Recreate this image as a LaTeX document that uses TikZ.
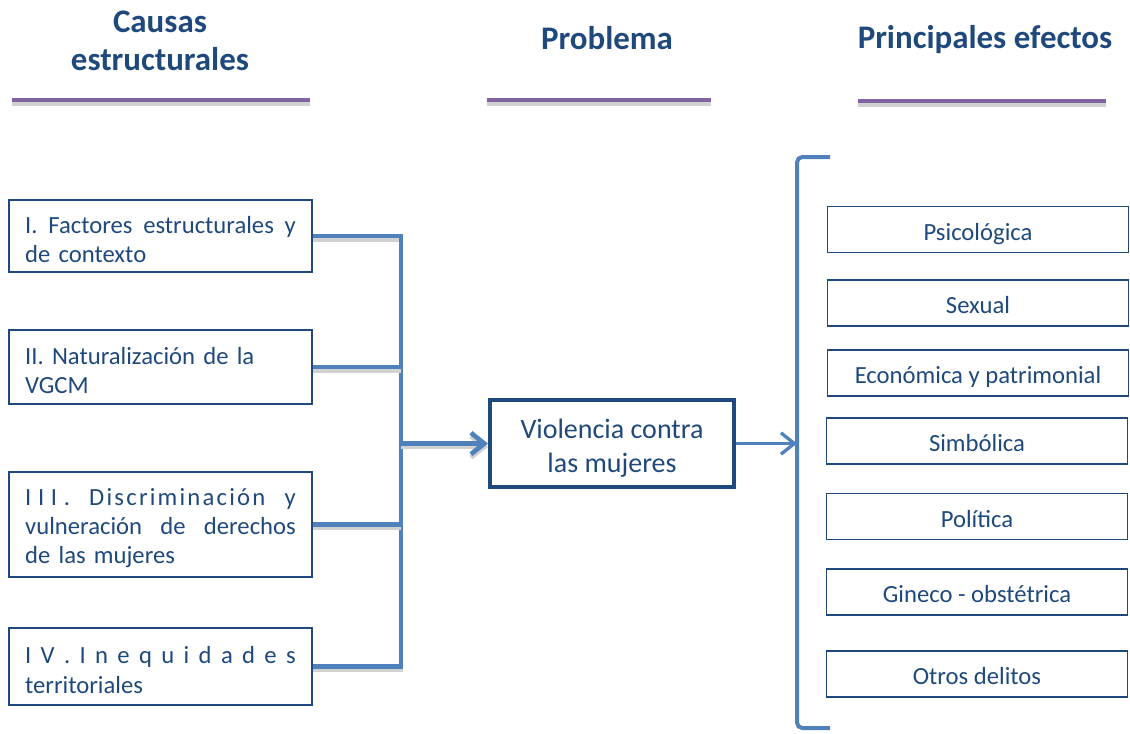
\documentclass[tikz,border=0pt]{standalone}
\usepackage{fontspec}
\setmainfont{Carlito}
\usetikzlibrary{arrows.meta}
\definecolor{txtblue}{HTML}{1F497D}
\definecolor{lineblue}{HTML}{4F81BD}
\definecolor{rulepurple}{HTML}{8064A2}
\def\spread#1{\makebox[203pt][s]{\spaceskip=0pt\xspaceskip=0pt\relax #1}}
\def\lift#1{\rule{0pt}{#1}}

\begin{document}
\begin{tikzpicture}[x=0.75pt,y=-0.75pt,
  title/.style={font=\fontsize{24.7}{28.5}\selectfont\bfseries, text=txtblue, align=center},
  titlerule/.style={draw=rulepurple, line width=3pt, preaction={draw=black!18, line width=3pt, transform canvas={yshift=-3pt}}},
  cause/.style={draw=txtblue, line width=1.6pt, text=txtblue, text width=203pt, inner xsep=12pt, inner ysep=0pt, align=left, font=\fontsize{18.5}{22}\selectfont},
  effect/.style={draw=txtblue, line width=1.1pt, text=txtblue, minimum width=226pt, minimum height=34.5pt, inner sep=0pt, text height=16pt, text depth=0pt, font=\fontsize{18.5}{22}\selectfont},
  conn/.style={draw=lineblue, line width=3.5pt, preaction={draw=black!18, line width=3.5pt, transform canvas={yshift=-2.5pt}}},
  tip/.style={-{Straight Barb[length=10pt,width=16pt]}}]
\useasboundingbox (0,0) rectangle (1130,733);

% headings
\node (T1) at (160,41) [title] {Causas\\estructurales};
\node (T2) at (607,38) [title] {Problema};
\node (T3) at (985,40) [title] {Principales efectos};
\draw [titlerule] (12,100) -- (310,100);
\draw [titlerule] (487,100) -- (711,100);
\draw [titlerule] (858,101) -- (1106,101);

% causes
\node (C1) at (160.5,236) [cause, minimum height=54pt] {\lift{18pt}\spread{I. Factores estructurales y}\\ de contexto};
\node (C2) at (160.5,367) [cause, minimum height=55.5pt] {\lift{18pt}II. Naturalización de la\\ VGCM};
\node (C3) at (160.5,524.5) [cause, minimum height=79pt] {\lift{18pt}\spread{I\kern5pt I\kern5pt I\kern5pt. {\addfontfeature{LetterSpace=9}Discriminación} y}\\ \spread{vulneración de derechos}\\ de las mujeres};
\node (C4) at (160.5,666.5) [cause, minimum height=58pt] {\lift{18pt}\spread{I V . I n e q u i d a d e s}\\ territoriales};

% problem
\node (P) at (612,443.5) [draw=txtblue, line width=3pt, text=txtblue, minimum width=183pt, minimum height=65pt, align=center, font=\fontsize{21}{25.5}\selectfont] {\lift{21pt}Violencia contra\\ las mujeres};

% effects
\node (E1) at (978,229.5) [effect] {Psicológica};
\node (E2) at (978,303) [effect] {Sexual};
\node (E3) at (978,373) [effect] {Económica y patrimonial};
\node (E4) at (977,441) [effect] {Simbólica};
\node (E5) at (977,516.5) [effect] {Política};
\node (E6) at (977,592) [effect] {Gineco - obstétrica};
\node (E7) at (977,674) [effect] {Otros delitos};

\coordinate (bus) at (401,0);
\coordinate (brk) at (797,0);
\coordinate (brtop) at (830,157);
\coordinate (brbot) at (830,728);

\draw [conn] (C1.east) -- (C1.east -| bus) -- (C4.east -| bus) -- (C4.east);
\draw [conn] (C2.east) -- (C2.east -| bus);
\draw [conn] (C3.east) -- (C3.east -| bus);
\draw [conn, tip] (bus |- P.west) -- (P.west);
\draw [draw=lineblue, line width=2.5pt, tip] (P.east) -- (P.east -| brk);
\draw [draw=lineblue, line width=3pt, rounded corners=4pt] (brtop) -| (brk |- brbot) -- (brbot);
\end{tikzpicture}
\end{document}
